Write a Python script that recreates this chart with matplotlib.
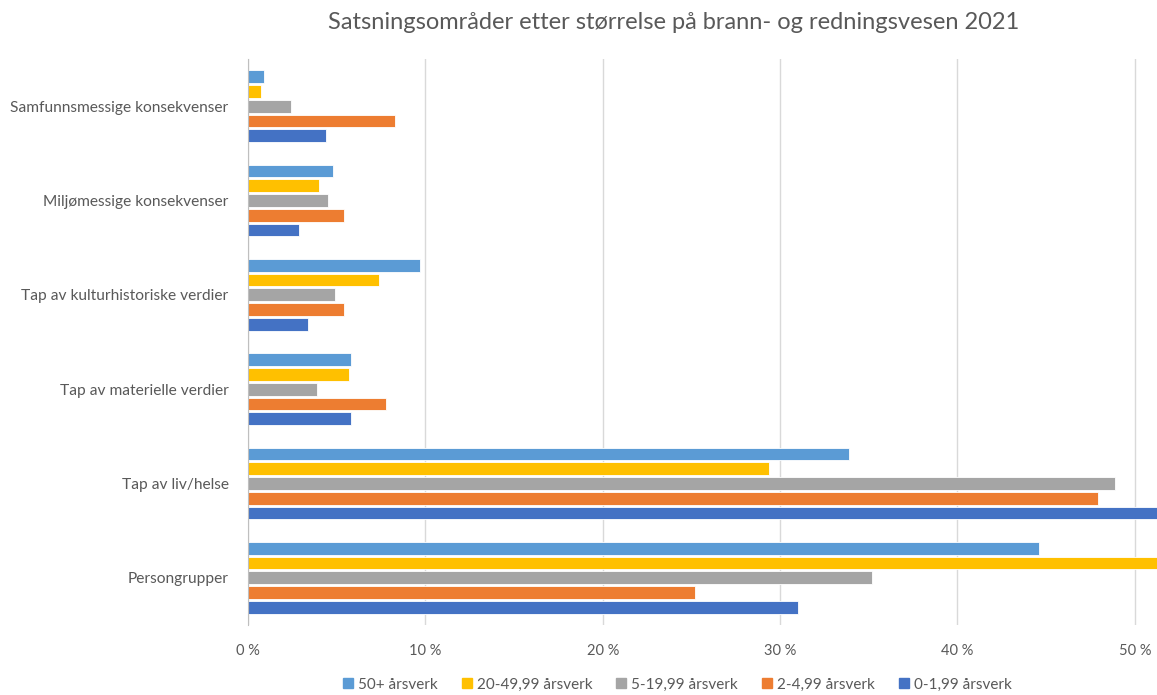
import numpy as np
import matplotlib.pyplot as plt
from matplotlib.lines import Line2D

plt.rcParams['font.family'] = ['Lato', 'DejaVu Sans']

categories = ['Samfunnsmessige konsekvenser', 'Miljømessige konsekvenser',
              'Tap av kulturhistoriske verdier', 'Tap av materielle verdier',
              'Tap av liv/helse', 'Persongrupper']

series_names = ['50+ årsverk', '20-49,99 årsverk', '5-19,99 årsverk',
                '2-4,99 årsverk', '0-1,99 årsverk']

# values in %, top-to-bottom order of categories
v_50 = [0.9, 4.8, 9.7, 5.8, 33.9, 44.6]
v_20 = [0.75, 4.0, 7.4, 5.7, 29.4, 56.0]
v_5 = [2.4, 4.5, 4.9, 3.9, 48.9, 35.2]
v_2 = [8.3, 5.4, 5.4, 7.8, 47.9, 25.2]
v_0 = [4.4, 2.9, 3.4, 5.8, 57.0, 31.0]

values = [v_50, v_20, v_5, v_2, v_0]
colors = ['#5B9BD5', '#FFC000', '#A5A5A5', '#ED7D31', '#4472C4']

ticks = [0, 10, 20, 30, 40, 50]
tick_labels = ['0 %', '10 %', '20 %', '30 %', '40 %', '50 %']

text_color = '#595959'

fig = plt.figure(figsize=(11.57, 6.95), dpi=100)
ax = fig.add_axes([0.2143, 0.1007, 0.7857, 0.8144])

y = np.arange(len(categories))
pitch = 0.156
height = 0.135
for k, (vals, c) in enumerate(zip(values, colors)):
    ax.barh(y + (k - 2) * pitch, vals, height=height, color=c,
            edgecolor='white', linewidth=0.6, zorder=3)

ax.set_ylim(len(categories) - 0.5, -0.5)
ax.set_xlim(0, 51.25)

ax.set_yticks(y)
ax.set_yticklabels(categories, fontsize=11.2, color=text_color)
ax.set_xticks(ticks)
ax.set_xticklabels(tick_labels, fontsize=10.5, color=text_color)
ax.tick_params(axis='both', length=0)
ax.tick_params(axis='y', pad=14)
ax.tick_params(axis='x', pad=14)

ax.grid(axis='x', color='#d9d9d9', linewidth=1, zorder=0)
for s in ['top', 'right', 'bottom']:
    ax.spines[s].set_visible(False)
ax.spines['left'].set_color('#bfbfbf')
ax.spines['left'].set_zorder(4)

fig.text(0.582, 0.968, 'Satsningsområder etter størrelse på brann- og redningsvesen 2021',
         ha='center', va='center', fontsize=17, color=text_color)

handles = [Line2D([], [], marker='s', linestyle='none', markersize=6.5,
                  markerfacecolor=c, markeredgecolor=c) for c in colors]
fig.legend(handles, series_names, loc='center', bbox_to_anchor=(0.585, 0.015),
           ncol=5, frameon=False, fontsize=11, labelcolor=text_color,
           handletextpad=0.25, columnspacing=1.5, handlelength=0.8)

fig.savefig('out.png', dpi=100)
